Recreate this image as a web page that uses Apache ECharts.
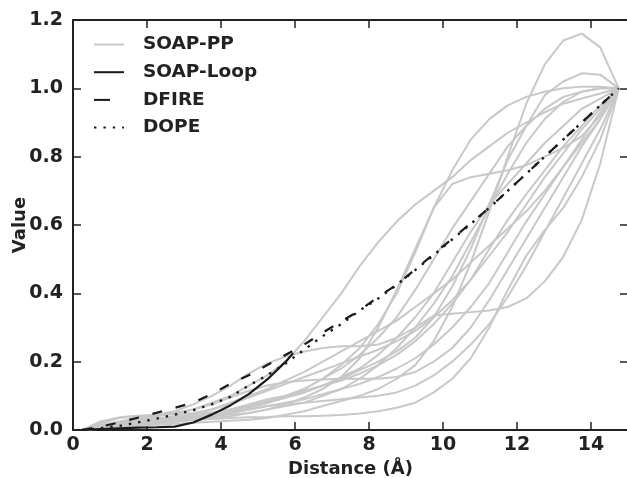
<!DOCTYPE html>
<html>
<head>
<meta charset="utf-8">
<script src="https://cdn.jsdelivr.net/npm/echarts@6/dist/echarts.min.js"></script>
<style>html,body{margin:0;padding:0;background:#fff}#c{width:627px;height:478px}</style>
</head>
<body>
<div id="c"></div>
<script>
// Distance grid (Å)
const distances = [0.25, 0.75, 1.25, 1.75, 2.25, 2.75, 3.25, 3.75, 4.25, 4.75, 5.25, 5.75, 6.25, 6.75, 7.25, 7.75, 8.25, 8.75, 9.25, 9.75, 10.25, 10.75, 11.25, 11.75, 12.25, 12.75, 13.25, 13.75, 14.25, 14.75];

// SOAP-PP curves (grey)
const soapPP01 = [0, 0.004, 0.008, 0.012, 0.015, 0.018, 0.021, 0.024, 0.027, 0.03, 0.035, 0.045, 0.055, 0.07, 0.085, 0.10, 0.12, 0.15, 0.19, 0.26, 0.36, 0.49, 0.64, 0.80, 0.955, 1.07, 1.14, 1.16, 1.12, 1.0];
const soapPP02 = [0, 0.01, 0.02, 0.028, 0.034, 0.04, 0.045, 0.052, 0.06, 0.07, 0.08, 0.095, 0.11, 0.13, 0.15, 0.175, 0.2, 0.23, 0.27, 0.33, 0.42, 0.53, 0.66, 0.79, 0.89, 0.98, 1.02, 1.044, 1.04, 1.0];
const soapPP03 = [0, 0.01, 0.02, 0.03, 0.04, 0.05, 0.06, 0.08, 0.10, 0.13, 0.16, 0.20, 0.26, 0.33, 0.40, 0.48, 0.55, 0.61, 0.66, 0.70, 0.74, 0.79, 0.83, 0.87, 0.90, 0.93, 0.955, 0.97, 0.985, 1.0];
const soapPP04 = [0, 0.005, 0.01, 0.015, 0.02, 0.025, 0.03, 0.035, 0.04, 0.05, 0.06, 0.07, 0.08, 0.10, 0.12, 0.15, 0.19, 0.24, 0.30, 0.37, 0.45, 0.55, 0.65, 0.75, 0.84, 0.91, 0.96, 0.99, 1.0, 1.0];
const soapPP05 = [0, 0.008, 0.015, 0.02, 0.025, 0.03, 0.035, 0.04, 0.045, 0.05, 0.06, 0.075, 0.095, 0.12, 0.155, 0.21, 0.30, 0.41, 0.53, 0.65, 0.72, 0.74, 0.75, 0.76, 0.775, 0.80, 0.825, 0.86, 0.92, 1.0];
const soapPP06 = [0, 0.02, 0.035, 0.04, 0.045, 0.055, 0.075, 0.10, 0.13, 0.165, 0.195, 0.215, 0.23, 0.24, 0.245, 0.245, 0.25, 0.27, 0.30, 0.335, 0.34, 0.345, 0.35, 0.36, 0.385, 0.435, 0.507, 0.615, 0.78, 1.0];
const soapPP07 = [0, 0.005, 0.01, 0.015, 0.02, 0.025, 0.03, 0.032, 0.035, 0.037, 0.038, 0.04, 0.04, 0.042, 0.044, 0.048, 0.055, 0.065, 0.08, 0.11, 0.15, 0.21, 0.30, 0.41, 0.51, 0.585, 0.65, 0.74, 0.85, 1.0];
const soapPP08 = [0, 0.008, 0.015, 0.02, 0.025, 0.03, 0.035, 0.04, 0.05, 0.065, 0.08, 0.10, 0.12, 0.15, 0.19, 0.24, 0.31, 0.40, 0.52, 0.65, 0.76, 0.85, 0.91, 0.95, 0.975, 0.99, 1.0, 1.005, 1.005, 1.0];
const soapPP09 = [0, 0.01, 0.02, 0.025, 0.03, 0.035, 0.04, 0.045, 0.055, 0.07, 0.085, 0.10, 0.12, 0.15, 0.18, 0.22, 0.27, 0.33, 0.41, 0.50, 0.59, 0.67, 0.75, 0.83, 0.89, 0.94, 0.975, 0.99, 1.0, 1.0];
const soapPP10 = [0, 0.008, 0.015, 0.02, 0.024, 0.028, 0.032, 0.04, 0.05, 0.065, 0.08, 0.095, 0.11, 0.13, 0.155, 0.18, 0.22, 0.27, 0.33, 0.40, 0.49, 0.58, 0.66, 0.72, 0.78, 0.84, 0.89, 0.94, 0.97, 1.0];
const soapPP11 = [0, 0.01, 0.02, 0.025, 0.03, 0.035, 0.04, 0.048, 0.06, 0.075, 0.09, 0.10, 0.115, 0.13, 0.145, 0.165, 0.19, 0.22, 0.26, 0.31, 0.37, 0.44, 0.53, 0.615, 0.69, 0.76, 0.83, 0.89, 0.95, 1.0];
const soapPP12 = [0, 0.01, 0.015, 0.02, 0.025, 0.03, 0.035, 0.042, 0.05, 0.06, 0.07, 0.08, 0.09, 0.105, 0.12, 0.135, 0.155, 0.18, 0.21, 0.25, 0.30, 0.36, 0.43, 0.52, 0.61, 0.69, 0.77, 0.85, 0.93, 1.0];
const soapPP13 = [0, 0.005, 0.01, 0.015, 0.02, 0.025, 0.03, 0.04, 0.05, 0.06, 0.07, 0.075, 0.08, 0.085, 0.09, 0.095, 0.10, 0.11, 0.13, 0.16, 0.20, 0.25, 0.31, 0.39, 0.48, 0.58, 0.68, 0.78, 0.88, 1.0];
const soapPP14 = [0, 0.015, 0.025, 0.035, 0.04, 0.05, 0.06, 0.075, 0.095, 0.115, 0.13, 0.14, 0.145, 0.148, 0.15, 0.15, 0.15, 0.155, 0.17, 0.20, 0.24, 0.30, 0.38, 0.47, 0.56, 0.65, 0.74, 0.83, 0.91, 1.0];
const soapPP15 = [0, 0.01, 0.018, 0.025, 0.032, 0.038, 0.045, 0.06, 0.08, 0.10, 0.12, 0.145, 0.17, 0.20, 0.23, 0.26, 0.29, 0.32, 0.36, 0.40, 0.44, 0.49, 0.54, 0.59, 0.64, 0.70, 0.77, 0.84, 0.91, 1.0];
const soapPP16 = [0, 0.025, 0.037, 0.042, 0.044, 0.046, 0.05, 0.06, 0.075, 0.095, 0.115, 0.135, 0.155, 0.175, 0.195, 0.215, 0.235, 0.26, 0.29, 0.33, 0.38, 0.44, 0.51, 0.58, 0.66, 0.74, 0.81, 0.88, 0.94, 1.0];
const soapPPCurves = [soapPP01, soapPP02, soapPP03, soapPP04, soapPP05, soapPP06, soapPP07, soapPP08,
                      soapPP09, soapPP10, soapPP11, soapPP12, soapPP13, soapPP14, soapPP15, soapPP16];

// SOAP-Loop (black solid, stops near 6 Å)
const loopDistances = [0.25, 0.75, 1.25, 1.75, 2.25, 2.75, 3.25, 3.75, 4.25, 4.75, 5.25, 5.75, 5.95];
const soapLoop = [0, 0.003, 0.005, 0.007, 0.008, 0.01, 0.022, 0.045, 0.072, 0.105, 0.148, 0.2, 0.225];

// DFIRE (dashed) and DOPE (dotted)
const dfire = [0, 0.01, 0.022, 0.036, 0.05, 0.065, 0.08, 0.105, 0.135, 0.16, 0.19, 0.22, 0.25, 0.285, 0.318, 0.35, 0.39, 0.425, 0.47, 0.515, 0.56, 0.605, 0.65, 0.70, 0.75, 0.80, 0.85, 0.90, 0.95, 1.0];
const dope = [0, 0.005, 0.012, 0.022, 0.033, 0.045, 0.058, 0.075, 0.097, 0.13, 0.16, 0.195, 0.235, 0.275, 0.31, 0.35, 0.385, 0.425, 0.468, 0.512, 0.558, 0.603, 0.65, 0.70, 0.75, 0.80, 0.85, 0.90, 0.95, 1.0];

const legendNames = ['SOAP-PP', 'SOAP-Loop', 'DFIRE', 'DOPE'];

const FONT = 'DejaVu Sans';
const INK = '#1a1a1a';
const GREY = '#c8c8c8';

function pairs(xs, ys) { return xs.map((x, i) => [x, ys[i]]); }

const series = [];
soapPPCurves.forEach(c => series.push({
  name: 'SOAP-PP', type: 'line', data: pairs(distances, c), symbol: 'none',
  lineStyle: { color: GREY, width: 2 }, itemStyle: { color: GREY }, z: 2
}));
series.push({
  name: 'SOAP-Loop', type: 'line', data: pairs(loopDistances, soapLoop), symbol: 'none',
  lineStyle: { color: INK, width: 2.2 }, itemStyle: { color: INK }, z: 3
});
series.push({
  name: 'DFIRE', type: 'line', data: pairs(distances, dfire), symbol: 'none',
  lineStyle: { color: INK, width: 2.2, type: [10, 14] }, itemStyle: { color: INK }, z: 3
});
series.push({
  name: 'DOPE', type: 'line', data: pairs(distances, dope), symbol: 'none',
  lineStyle: { color: INK, width: 2.4, type: [2.4, 7] }, itemStyle: { color: INK }, z: 3
});

const axisLineStyle = { show: true, onZero: false, lineStyle: { color: '#222', width: 2 } };
const tickStyle = { show: true, inside: true, length: 8, lineStyle: { color: '#222', width: 1.5 } };
const tickFont = { fontFamily: FONT, fontWeight: 'bold', fontSize: 19, color: '#222' };
const nameFont = { fontFamily: FONT, fontWeight: 'bold', fontSize: 18, color: '#222' };
const legendFont = { fontFamily: FONT, fontWeight: 'bold', fontSize: 18.5, color: '#222' };

const chart = echarts.init(document.getElementById('c'), null, { renderer: 'canvas' });
chart.setOption({
  animation: false,
  backgroundColor: '#fff',
  grid: { left: 73, width: 555, top: 20, bottom: 48, containLabel: false, outerBoundsMode: 'none' },
  legend: {
    data: legendNames.map(n => n === 'DFIRE' ? { name: n, lineStyle: { type: [16, 20] } } : { name: n }),
    orient: 'vertical', left: 88, top: 30,
    itemWidth: 30, itemHeight: 18, itemGap: 8.7,
    itemStyle: { opacity: 0 },
    textStyle: Object.assign({ padding: [0, 0, 0, 14] }, legendFont)
  },
  xAxis: [{
    type: 'value', min: 0, max: 15, interval: 2, position: 'bottom',
    axisLine: axisLineStyle, axisTick: tickStyle, splitLine: { show: false },
    axisLabel: Object.assign({ margin: 6, formatter: v => (v === 15 ? '' : String(v)) }, tickFont),
    name: 'Distance (Å)', nameLocation: 'middle', nameGap: 27,
    nameTextStyle: nameFont
  }, {
    type: 'value', min: 0, max: 15, interval: 2, position: 'top',
    axisLine: axisLineStyle, axisTick: tickStyle, splitLine: { show: false },
    axisLabel: { show: false }
  }],
  yAxis: [{
    type: 'value', min: 0, max: 1.2, interval: 0.2, position: 'left',
    axisLine: axisLineStyle, axisTick: tickStyle, splitLine: { show: false },
    axisLabel: Object.assign({ margin: 10, formatter: v => v.toFixed(1) }, tickFont),
    name: 'Value', nameLocation: 'middle', nameGap: 44, nameMoveOverlap: false,
    nameTextStyle: nameFont
  }, {
    type: 'value', min: 0, max: 1.2, interval: 0.2, position: 'right',
    axisLine: axisLineStyle, axisTick: tickStyle, splitLine: { show: false },
    axisLabel: { show: false }
  }],
  series: series
});
</script>
</body>
</html>
